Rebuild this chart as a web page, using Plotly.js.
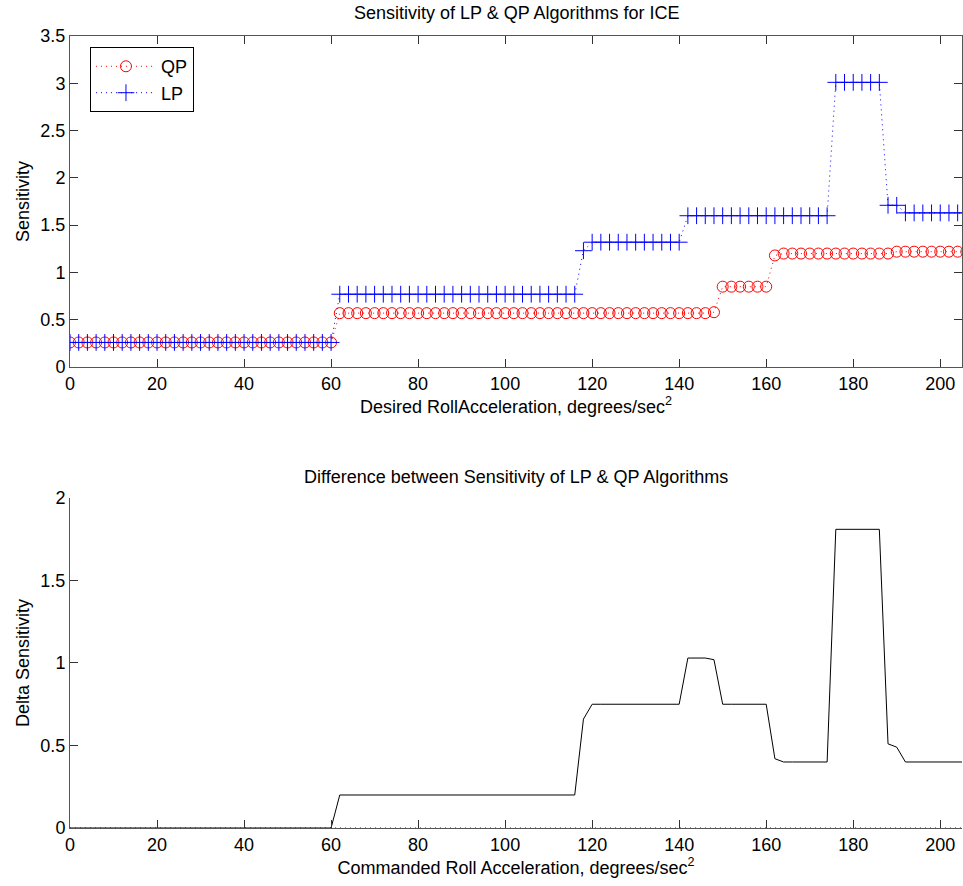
<!DOCTYPE html>
<html>
<head>
<meta charset="utf-8">
<script src="https://cdn.plot.ly/plotly-3.0.1.min.js"></script>
<style>
  html, body { margin: 0; padding: 0; background: #fff; }
  #chart { width: 963px; height: 886px; }
</style>
</head>
<body>
<div id="chart"></div>
<script>
// Desired / commanded roll acceleration, degrees/sec^2
const rollAccel = [
  0, 2, 4, 6, 8, 10, 12, 14, 16, 18, 20, 22, 24, 26, 28, 30, 32, 34, 36, 38,
  40, 42, 44, 46, 48, 50, 52, 54, 56, 58, 60, 62, 64, 66, 68, 70, 72, 74, 76, 78,
  80, 82, 84, 86, 88, 90, 92, 94, 96, 98, 100, 102, 104, 106, 108, 110, 112, 114, 116, 118,
  120, 122, 124, 126, 128, 130, 132, 134, 136, 138, 140, 142, 144, 146, 148, 150, 152, 154, 156, 158,
  160, 162, 164, 166, 168, 170, 172, 174, 176, 178, 180, 182, 184, 186, 188, 190, 192, 194, 196, 198,
  200, 202, 204, 206
];

// QP sensitivity
const qpSensitivity = [
  0.26, 0.26, 0.26, 0.26, 0.26, 0.26, 0.26, 0.26, 0.26, 0.26, 0.26, 0.26, 0.26, 0.26, 0.26, 0.26, 0.26, 0.26, 0.26, 0.26,
  0.26, 0.26, 0.26, 0.26, 0.26, 0.26, 0.26, 0.26, 0.26, 0.26, 0.26, 0.57, 0.57, 0.57, 0.57, 0.57, 0.57, 0.57, 0.57, 0.57,
  0.57, 0.57, 0.57, 0.57, 0.57, 0.57, 0.57, 0.57, 0.57, 0.57, 0.57, 0.57, 0.57, 0.57, 0.57, 0.57, 0.57, 0.57, 0.57, 0.57,
  0.57, 0.57, 0.57, 0.57, 0.57, 0.57, 0.57, 0.57, 0.57, 0.57, 0.57, 0.57, 0.57, 0.57, 0.58, 0.85, 0.85, 0.85, 0.85, 0.85,
  0.85, 1.18, 1.20, 1.20, 1.20, 1.20, 1.20, 1.20, 1.20, 1.20, 1.20, 1.20, 1.20, 1.20, 1.20, 1.22, 1.22, 1.22, 1.22, 1.22,
  1.22, 1.22, 1.22, 1.22
];

// LP sensitivity
const lpSensitivity = [
  0.26, 0.26, 0.26, 0.26, 0.26, 0.26, 0.26, 0.26, 0.26, 0.26, 0.26, 0.26, 0.26, 0.26, 0.26, 0.26, 0.26, 0.26, 0.26, 0.26,
  0.26, 0.26, 0.26, 0.26, 0.26, 0.26, 0.26, 0.26, 0.26, 0.26, 0.26, 0.77, 0.77, 0.77, 0.77, 0.77, 0.77, 0.77, 0.77, 0.77,
  0.77, 0.77, 0.77, 0.77, 0.77, 0.77, 0.77, 0.77, 0.77, 0.77, 0.77, 0.77, 0.77, 0.77, 0.77, 0.77, 0.77, 0.77, 0.77, 1.23,
  1.32, 1.32, 1.32, 1.32, 1.32, 1.32, 1.32, 1.32, 1.32, 1.32, 1.32, 1.60, 1.60, 1.60, 1.60, 1.60, 1.60, 1.60, 1.60, 1.60,
  1.60, 1.60, 1.60, 1.60, 1.60, 1.60, 1.60, 1.60, 3.01, 3.01, 3.01, 3.01, 3.01, 3.01, 1.71, 1.71, 1.63, 1.63, 1.63, 1.63,
  1.63, 1.63, 1.63, 1.63
];

// Delta sensitivity (LP - QP)
const deltaSensitivity = [
  0, 0, 0, 0, 0, 0, 0, 0, 0, 0, 0, 0, 0, 0, 0, 0, 0, 0, 0, 0,
  0, 0, 0, 0, 0, 0, 0, 0, 0, 0, 0, 0.20, 0.20, 0.20, 0.20, 0.20, 0.20, 0.20, 0.20, 0.20,
  0.20, 0.20, 0.20, 0.20, 0.20, 0.20, 0.20, 0.20, 0.20, 0.20, 0.20, 0.20, 0.20, 0.20, 0.20, 0.20, 0.20, 0.20, 0.20, 0.66,
  0.75, 0.75, 0.75, 0.75, 0.75, 0.75, 0.75, 0.75, 0.75, 0.75, 0.75, 1.03, 1.03, 1.03, 1.02, 0.75, 0.75, 0.75, 0.75, 0.75,
  0.75, 0.42, 0.40, 0.40, 0.40, 0.40, 0.40, 0.40, 1.81, 1.81, 1.81, 1.81, 1.81, 1.81, 0.51, 0.49, 0.40, 0.40, 0.40, 0.40,
  0.40, 0.40, 0.40, 0.40
];

// Zero reference line in the lower panel
const zeroLine = [0, 0];
const zeroLineX = [0, 205];

const topYTicks = [0, 0.5, 1, 1.5, 2, 2.5, 3, 3.5];
const topYTickText = ['0', '0.5', '1', '1.5', '2', '2.5', '3', '3.5'];
const bottomYTicks = [0, 0.5, 1, 1.5, 2];
const bottomYTickText = ['0', '0.5', '1', '1.5', '2'];
const xTicks = [0, 20, 40, 60, 80, 100, 120, 140, 160, 180, 200];

const FONT = 'Liberation Sans, Arial, Helvetica, sans-serif';
const FS = 18;

const traces = [
  {
    x: rollAccel, y: qpSensitivity, name: 'QP', type: 'scatter', mode: 'lines+markers',
    xaxis: 'x', yaxis: 'y', cliponaxis: true,
    line: { color: '#ff0000', width: 1, dash: '1px,4px' },
    marker: { symbol: 'circle-open', size: 11, color: '#ff0000', line: { width: 1, color: '#ff0000' } }
  },
  {
    x: rollAccel, y: lpSensitivity, name: 'LP', type: 'scatter', mode: 'lines+markers',
    xaxis: 'x', yaxis: 'y', cliponaxis: true,
    line: { color: '#0000ff', width: 1, dash: '1px,4px' },
    marker: { symbol: 'cross-thin-open', size: 12, color: '#0000ff', line: { width: 1, color: '#0000ff' } }
  },
  {
    x: zeroLineX, y: zeroLine, type: 'scatter', mode: 'lines', showlegend: false,
    xaxis: 'x2', yaxis: 'y2', hoverinfo: 'skip',
    line: { color: '#0000ff', width: 1, dash: '1px,4px' }
  },
  {
    x: rollAccel, y: deltaSensitivity, name: 'Delta', type: 'scatter', mode: 'lines', showlegend: false,
    xaxis: 'x2', yaxis: 'y2',
    line: { color: '#000000', width: 1 }
  }
];

const axisCommon = {
  showgrid: false, zeroline: false, showline: true, linecolor: '#555', linewidth: 1,
  ticks: 'inside', ticklen: 8, tickcolor: '#333', tickwidth: 1,
  tickfont: { family: FONT, size: FS, color: '#000' }
};

const layout = {
  width: 963, height: 886,
  margin: { l: 70, r: 1, t: 36, b: 58 },
  paper_bgcolor: '#fff', plot_bgcolor: '#fff',
  font: { family: FONT, size: FS, color: '#000' },
  showlegend: true,
  legend: {
    x: 0.0224, y: 0.986, xanchor: 'left', yanchor: 'top',
    bordercolor: '#000', borderwidth: 1, bgcolor: '#fff',
    font: { family: FONT, size: FS, color: '#000' },
    tracegroupgap: 0, itemwidth: 60
  },
  xaxis: Object.assign({}, axisCommon, {
    domain: [0, 1], anchor: 'y', range: [0, 205], tickvals: xTicks, mirror: 'ticks',
    title: { text: 'Desired RollAcceleration, degrees/sec<sup>2</sup>', font: { family: FONT, size: FS }, standoff: 7 }
  }),
  yaxis: Object.assign({}, axisCommon, {
    domain: [0.582, 1], anchor: 'x', range: [0, 3.5], tickvals: topYTicks, ticktext: topYTickText, mirror: 'ticks',
    title: { text: 'Sensitivity', font: { family: FONT, size: FS }, standoff: 6 }
  }),
  xaxis2: Object.assign({}, axisCommon, {
    domain: [0, 1], anchor: 'y2', range: [0, 205], tickvals: xTicks,
    title: { text: 'Commanded Roll Acceleration, degrees/sec<sup>2</sup>', font: { family: FONT, size: FS }, standoff: 7 }
  }),
  yaxis2: Object.assign({}, axisCommon, {
    domain: [0, 0.4167], anchor: 'x2', range: [0, 2], tickvals: bottomYTicks, ticktext: bottomYTickText,
    title: { text: 'Delta Sensitivity', font: { family: FONT, size: FS }, standoff: 6 }
  }),
  annotations: [
    { text: 'Sensitivity of LP &amp; QP Algorithms for ICE', xref: 'paper', yref: 'paper',
      x: 0.5, y: 1.0, yshift: 23, xanchor: 'center', yanchor: 'middle', showarrow: false,
      font: { family: FONT, size: FS, color: '#000' } },
    { text: 'Difference between Sensitivity of LP &amp; QP Algorithms', xref: 'paper', yref: 'paper',
      x: 0.5, y: 0.4167, yshift: 21, xanchor: 'center', yanchor: 'middle', showarrow: false,
      font: { family: FONT, size: FS, color: '#000' } }
  ]
};

Plotly.newPlot('chart', traces, layout, { displayModeBar: false, staticPlot: true });
</script>
</body>
</html>
